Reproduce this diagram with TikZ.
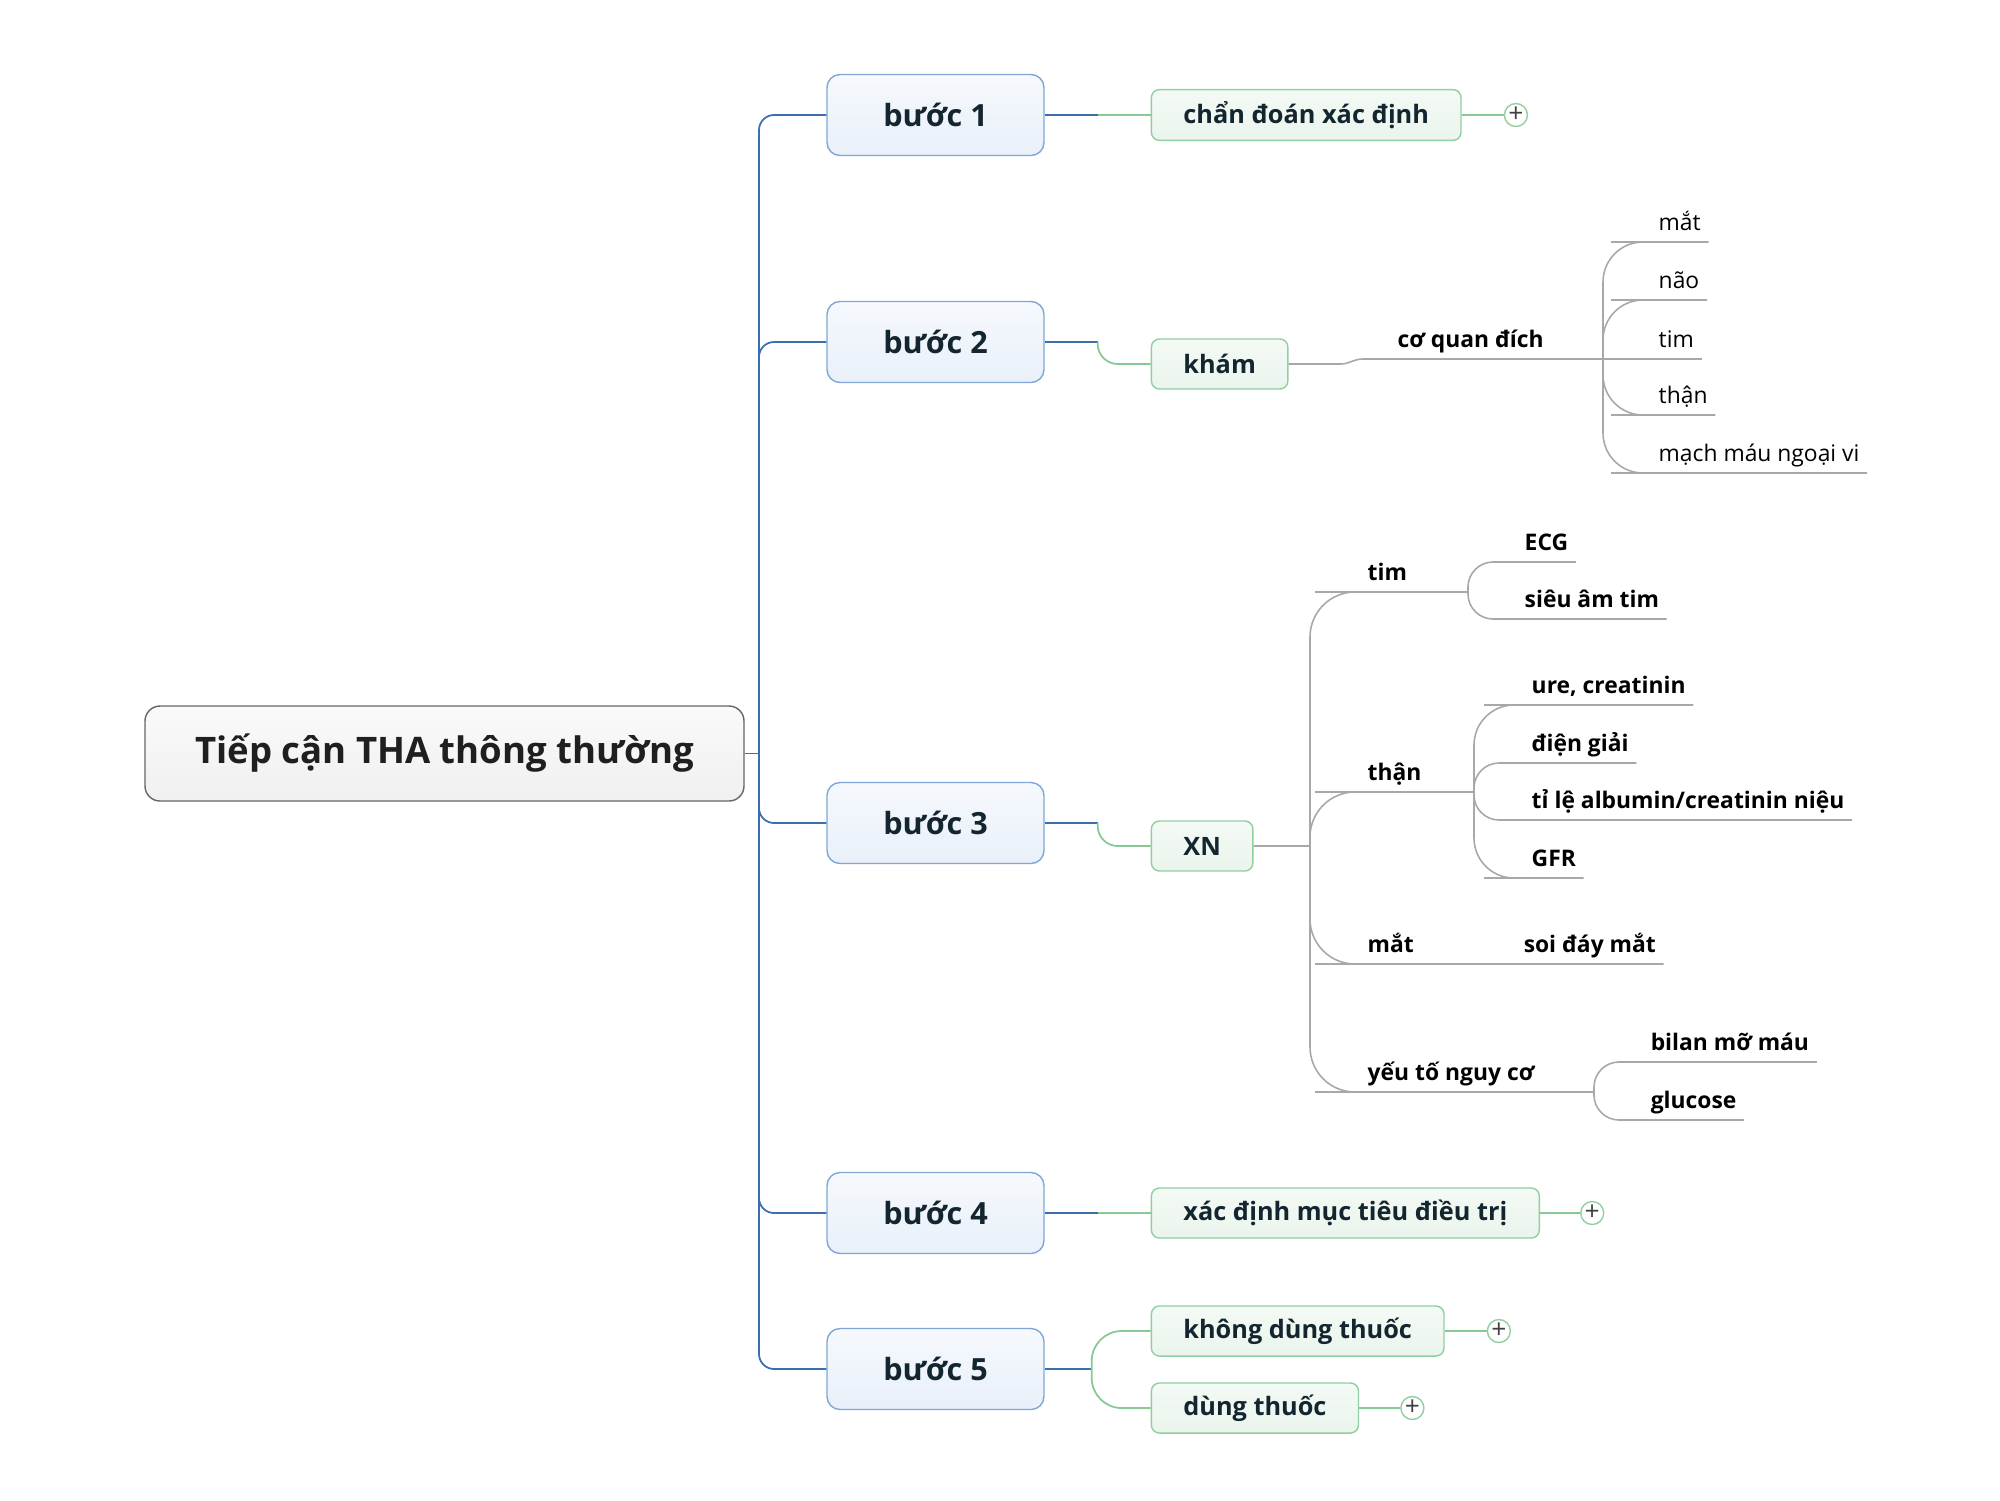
\documentclass[tikz,border=0pt]{standalone}
\usepackage{fontspec}
\setmainfont{Open Sans}
\usetikzlibrary{positioning}
\definecolor{trunkblue}{HTML}{3D6FAE}
\definecolor{stageedge}{HTML}{7FA6D6}
\definecolor{stagetop}{HTML}{F6F9FD}
\definecolor{stagebot}{HTML}{E9F0F9}
\definecolor{ideaedge}{HTML}{8FD0A0}
\definecolor{ideatop}{HTML}{F4FAF5}
\definecolor{ideabot}{HTML}{EAF4EC}
\definecolor{twiggreen}{HTML}{86C996}
\definecolor{leafgray}{HTML}{A8A8A8}
\definecolor{inkdark}{HTML}{13262F}
\tikzset{
    root/.style={
        draw=black!60,
        top color=black!2,
        bottom color=black!6,
        rounded corners=0.15cm,
        minimum width=5.99cm,
        minimum height=0.95cm,
        font=\bfseries\fontsize{10.4}{13}\selectfont,
        text=black!88,
    },
    stage/.style={
        draw=stageedge,
        top color=stagetop,
        bottom color=stagebot,
        rounded corners=0.13cm,
        minimum width=2.17cm,
        minimum height=0.81cm,
        font=\bfseries\fontsize{8.7}{11}\selectfont,
        text=inkdark,
    },
    idea/.style={
        draw=ideaedge,
        top color=ideatop,
        bottom color=ideabot,
        rounded corners=0.08cm,
        minimum height=0.5cm,
        inner xsep=0.32cm,
        font=\bfseries\fontsize{7.2}{9}\selectfont,
        text=inkdark,
    },
    topic/.style={
        anchor=south west,
        inner xsep=2pt,
        inner ysep=0pt,
        text height=0.75em,
        text depth=0.3em,
        font=\bfseries\fontsize{6.5}{8}\selectfont,
    },
    note/.style={topic, font=\fontsize{6.5}{8}\selectfont},
    expander/.style={
        circle,
        draw=ideaedge,
        fill=white,
        inner sep=0pt,
        minimum size=0.23cm,
        font=\fontsize{7.5}{7.5}\selectfont,
        text=black!75,
    },
    trunk/.style={draw=trunkblue, line width=0.5pt},
    twig/.style={draw=twiggreen, line width=0.5pt},
    stem/.style={draw=leafgray, line width=0.45pt},
}

\begin{document}
\begin{tikzpicture}
        \useasboundingbox (0,0) rectangle (20,-15);
        % root and steps
        \node[root] (tha) at (4.445,-7.535) {Tiếp cận THA thông thường};
        \node[stage] (b1) at (9.355,-1.15) {bước 1};
        \node[stage] (b2) at (9.355,-3.42) {bước 2};
        \node[stage] (b3) at (9.355,-8.23) {bước 3};
        \node[stage] (b4) at (9.355,-12.13) {bước 4};
        \node[stage] (b5) at (9.355,-13.69) {bước 5};
        % green topics
        \node[idea, right=1.06cm of b1] (cdxd) {chẩn đoán xác định};
        \node[idea, right=1.06cm of b2, yshift=-0.22cm] (kham) {khám};
        \node[idea, right=1.06cm of b3, yshift=-0.23cm] (xn) {XN};
        \node[idea, right=1.06cm of b4] (xdmt) {xác định mục tiêu điều trị};
        \node[idea, right=1.06cm of b5, yshift=0.38cm] (kdt) {không dùng thuốc};
        \node[idea, right=1.06cm of b5, yshift=-0.39cm] (dt) {dùng thuốc};
        \node[expander, right=0.42cm of cdxd] (p1) {+};
        \node[expander, right=0.40cm of xdmt] (p2) {+};
        \node[expander, right=0.42cm of kdt] (p3) {+};
        \node[expander, right=0.41cm of dt] (p4) {+};
        % khám
        \node[topic] (cqd) at (13.90,-3.59) {cơ quan đích};
        \coordinate (cqdhub) at (16.03,-3.59);
        \node[note] (omat) at (16.51,-2.42) {mắt};
        \node[note] (onao) at (16.51,-3.00) {não};
        \node[note] (otim) at (16.51,-3.59) {tim};
        \node[note] (othan) at (16.51,-4.15) {thận};
        \node[note] (omach) at (16.51,-4.73) {mạch máu ngoại vi};
        % XN
        \coordinate (xnhub) at (13.10,-8.46);
        \node[topic] (xtim) at (13.60,-5.92) {tim};
        \node[topic] (xthan) at (13.60,-7.92) {thận};
        \node[topic] (xmat) at (13.60,-9.64) {mắt};
        \node[topic] (xyeuto) at (13.60,-10.92) {yếu tố nguy cơ};
        \coordinate (timhub) at (14.68,-5.92);
        \coordinate (thanhub) at (14.74,-7.92);
        \coordinate (yhub) at (15.94,-10.92);
        \node[topic] (ecg) at (15.17,-5.62) {ECG};
        \node[topic] (sieuam) at (15.17,-6.19) {siêu âm tim};
        \node[topic] (ure) at (15.24,-7.05) {ure, creatinin};
        \node[topic] (diengiai) at (15.24,-7.63) {điện giải};
        \node[topic] (albumin) at (15.24,-8.20) {tỉ lệ albumin/creatinin niệu};
        \node[topic] (gfr) at (15.24,-8.78) {GFR};
        \node[topic] (soiday) at (15.16,-9.64) {soi đáy mắt};
        \node[topic] (bilan) at (16.43,-10.62) {bilan mỡ máu};
        \node[topic] (glucose) at (16.43,-11.20) {glucose};
        % blue trunk
        \coordinate (hub) at (7.59,-7.535);
        \draw[trunk] (tha.east) -- (hub);
        \draw[trunk, rounded corners=0.15cm] (hub) |- (b1.west);
        \draw[trunk, rounded corners=0.15cm] (hub) |- (b2.west);
        \draw[trunk, rounded corners=0.15cm] (hub) |- (b3.west);
        \draw[trunk, rounded corners=0.15cm] (hub) |- (b4.west);
        \draw[trunk, rounded corners=0.15cm] (hub) |- (b5.west);
        \coordinate[right=0.53cm of b1.east] (b1o);
        \coordinate[right=0.53cm of b2.east] (b2o);
        \coordinate[right=0.53cm of b3.east] (b3o);
        \coordinate[right=0.53cm of b4.east] (b4o);
        \coordinate[right=0.47cm of b5.east] (b5o);
        \draw[trunk] (b1.east) -- (b1o);
        \draw[trunk] (b2.east) -- (b2o);
        \draw[trunk] (b3.east) -- (b3o);
        \draw[trunk] (b4.east) -- (b4o);
        \draw[trunk] (b5.east) -- (b5o);
        % green links
        \draw[twig] (b1o) -- (cdxd.west);
        \draw[twig, rounded corners=0.2cm] (b2o) |- (kham.west);
        \draw[twig, rounded corners=0.2cm] (b3o) |- (xn.west);
        \draw[twig] (b4o) -- (xdmt.west);
        \draw[twig, rounded corners=0.3cm] (b5o) |- (kdt.west);
        \draw[twig, rounded corners=0.3cm] (b5o) |- (dt.west);
        \draw[twig] (cdxd.east) -- (p1.west);
        \draw[twig] (xdmt.east) -- (p2.west);
        \draw[twig] (kdt.east) -- (p3.west);
        \draw[twig] (dt.east) -- (p4.west);
        % grey links
        \draw[stem] (kham.east) -- ++(0.52,0) to[out=0,in=180] ++(0.22,0.05) -- (cqdhub);
        \draw[stem, rounded corners=0.4cm] (cqdhub) |- (omat.south west) -- (omat.south east);
        \draw[stem, rounded corners=0.4cm] (cqdhub) |- (onao.south west) -- (onao.south east);
        \draw[stem] (cqdhub) -- (otim.south east);
        \draw[stem, rounded corners=0.4cm] (cqdhub) |- (othan.south west) -- (othan.south east);
        \draw[stem, rounded corners=0.4cm] (cqdhub) |- (omach.south west) -- (omach.south east);
        \draw[stem] (xn.east) -- (xnhub);
        \draw[stem, rounded corners=0.45cm] (xnhub) |- (xtim.south west) -- (timhub);
        \draw[stem, rounded corners=0.45cm] (xnhub) |- (xthan.south west) -- (thanhub);
        \draw[stem, rounded corners=0.45cm] (xnhub) |- (xmat.south west) -- (soiday.south east);
        \draw[stem, rounded corners=0.45cm] (xnhub) |- (xyeuto.south west) -- (yhub);
        \draw[stem, rounded corners=0.25cm] (timhub) |- (ecg.south west) -- (ecg.south east);
        \draw[stem, rounded corners=0.25cm] (timhub) |- (sieuam.south west) -- (sieuam.south east);
        \draw[stem, rounded corners=0.4cm] (thanhub) |- (ure.south west) -- (ure.south east);
        \draw[stem, rounded corners=0.25cm] (thanhub) |- (diengiai.south west) -- (diengiai.south east);
        \draw[stem, rounded corners=0.25cm] (thanhub) |- (albumin.south west) -- (albumin.south east);
        \draw[stem, rounded corners=0.4cm] (thanhub) |- (gfr.south west) -- (gfr.south east);
        \draw[stem, rounded corners=0.25cm] (yhub) |- (bilan.south west) -- (bilan.south east);
        \draw[stem, rounded corners=0.25cm] (yhub) |- (glucose.south west) -- (glucose.south east);
\end{tikzpicture}
\end{document}
